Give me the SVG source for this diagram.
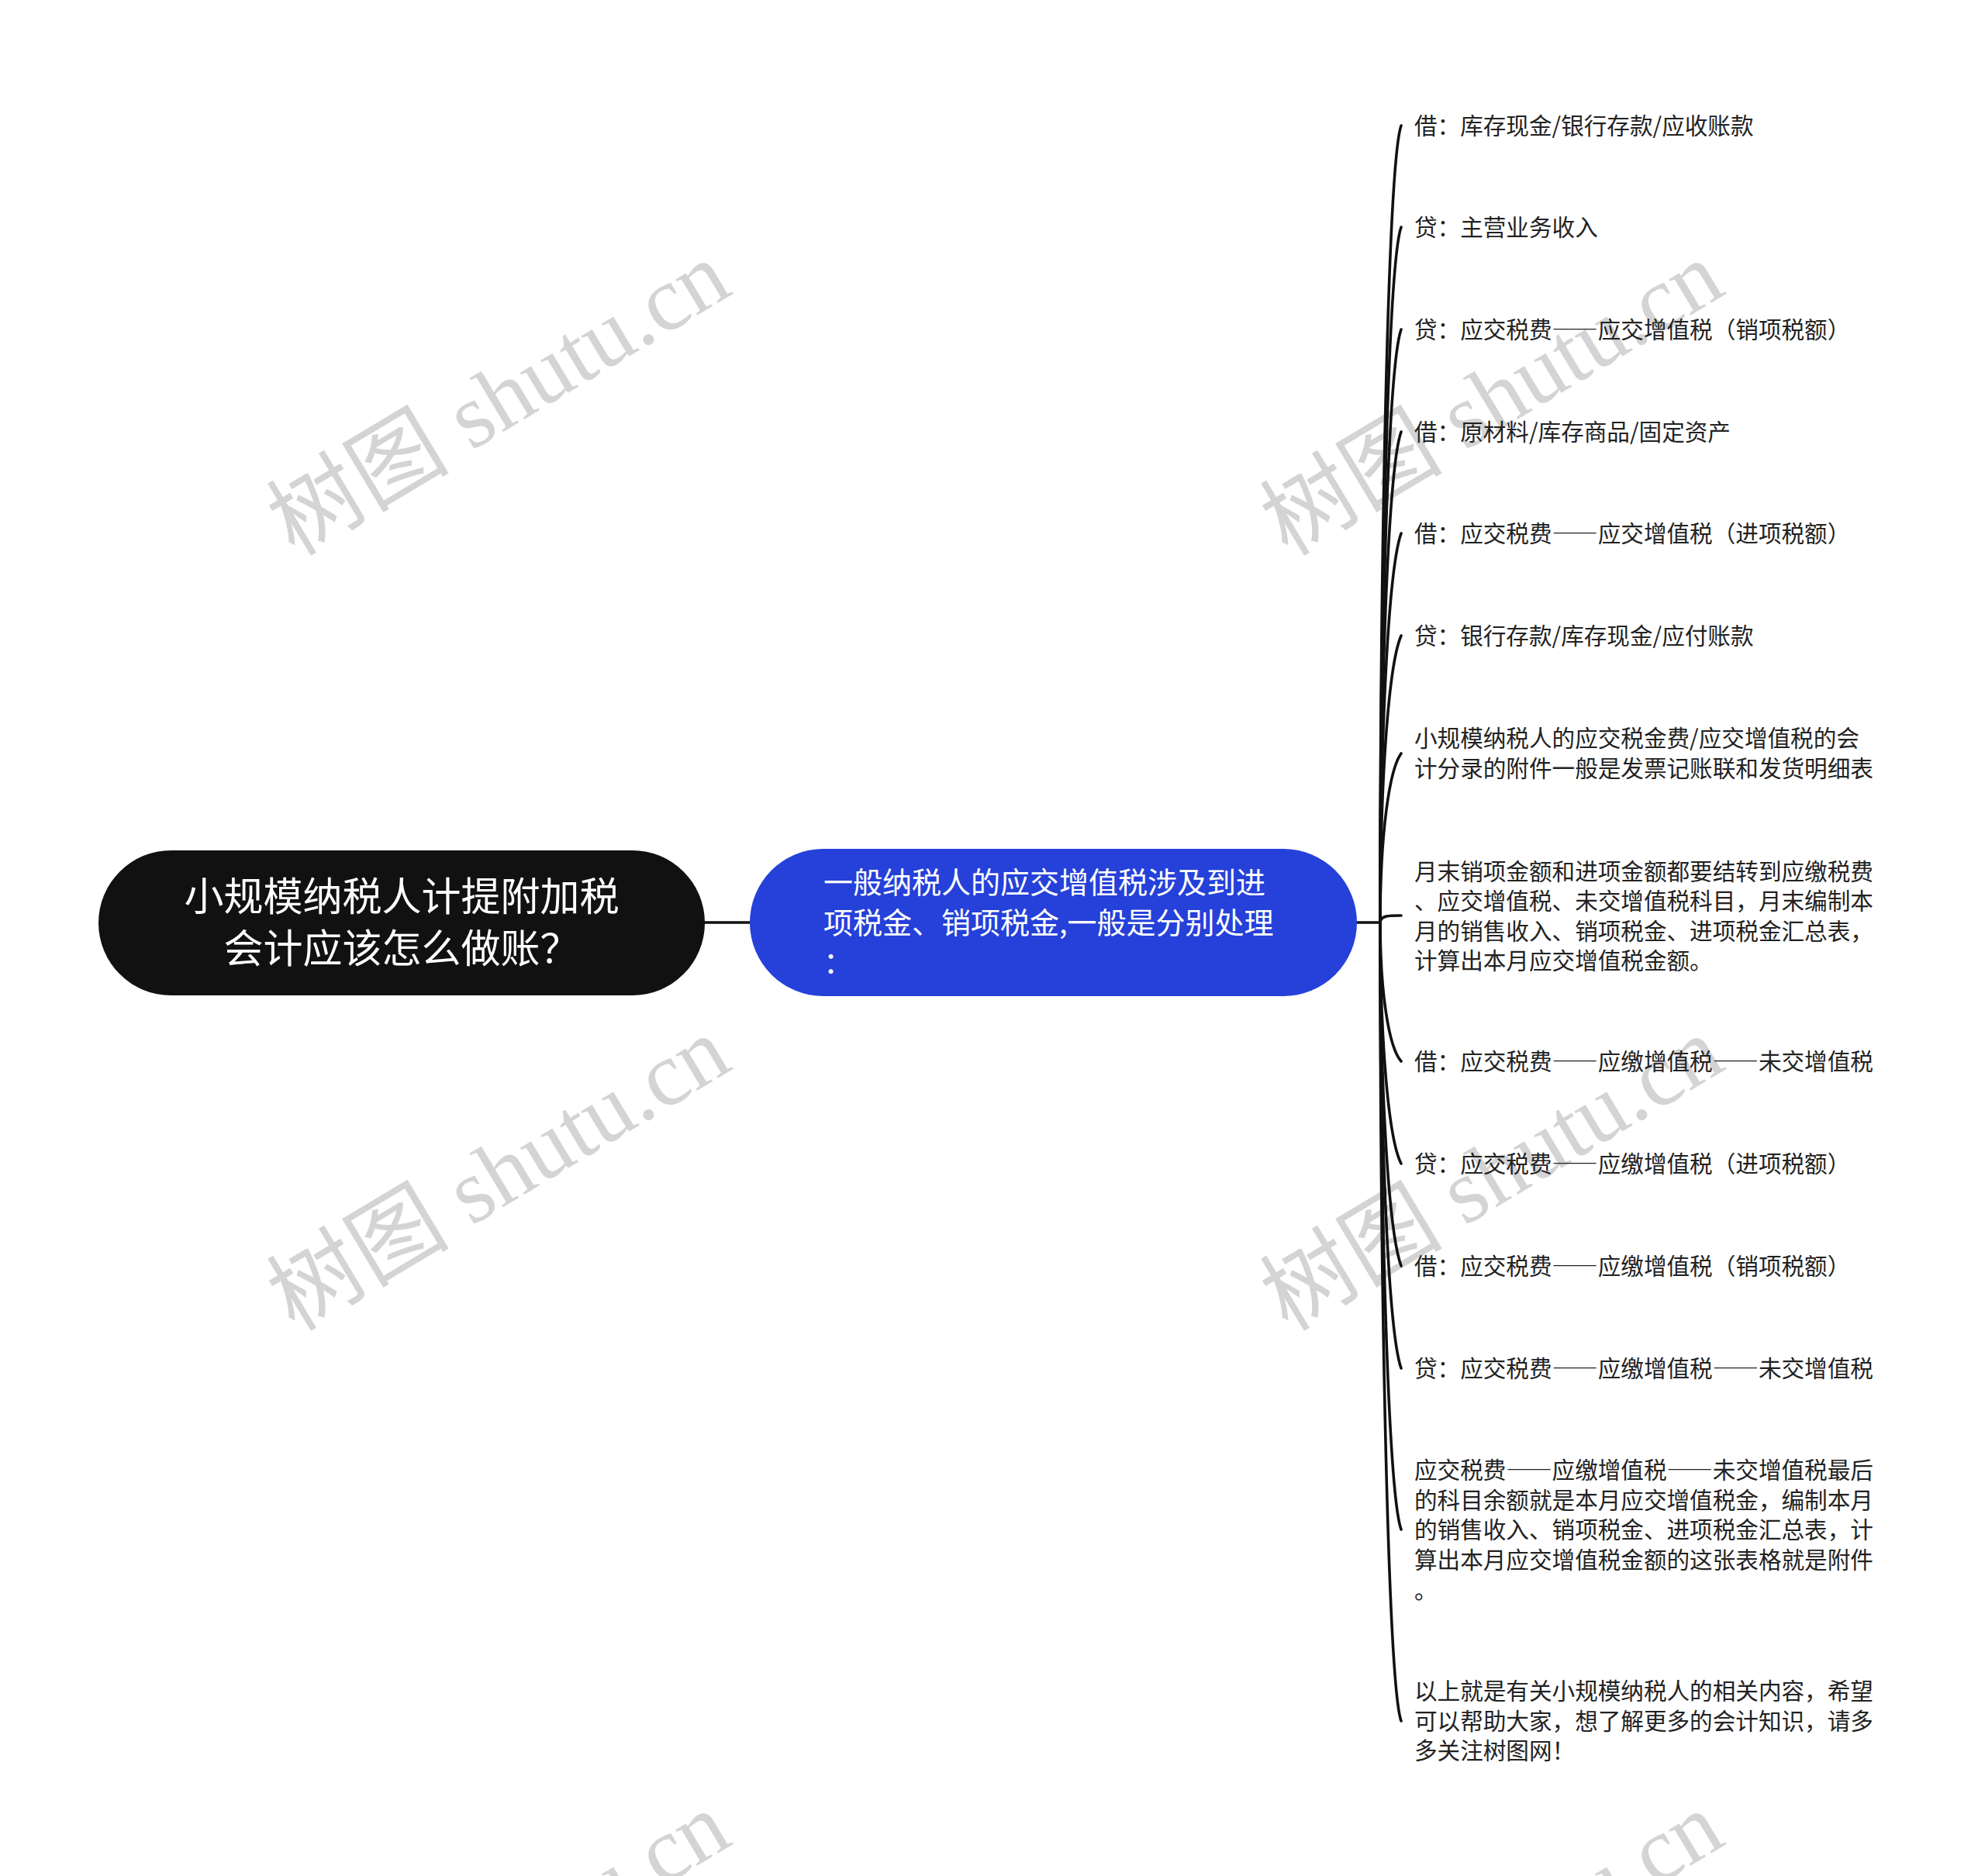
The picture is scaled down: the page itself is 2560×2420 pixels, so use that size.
<svg xmlns="http://www.w3.org/2000/svg" width="2560" height="2420" viewBox="0 0 2560 2420">
<style>
.wm{font-family:"Liberation Serif","Noto Sans CJK SC",serif;font-size:118px;fill:#d4d4d4;text-anchor:middle}
.root{font-family:"Noto Sans CJK SC",sans-serif;font-size:51px;fill:#ffffff;text-anchor:middle}
.main{font-family:"Noto Sans CJK SC",sans-serif;font-size:38px;fill:#ffffff}
.leaf{font-family:"Noto Sans CJK SC",sans-serif;font-size:29.6px;fill:#222222}
.d{font-feature-settings:"fwid" 1}
.conn{fill:none;stroke:#111111;stroke-width:3.6;stroke-linecap:round}
</style>
<rect x="0" y="0" width="2560" height="2420" fill="#ffffff"/>
<g id="watermarks">
<text class="wm" transform="translate(643,514) rotate(-31)" y="40">树图 shutu.cn</text>
<text class="wm" transform="translate(1924,514) rotate(-31)" y="40">树图 shutu.cn</text>
<text class="wm" transform="translate(643,1514) rotate(-31)" y="40">树图 shutu.cn</text>
<text class="wm" transform="translate(1924,1514) rotate(-31)" y="40">树图 shutu.cn</text>
<text class="wm" transform="translate(643,2514) rotate(-31)" y="40">树图 shutu.cn</text>
<text class="wm" transform="translate(1924,2514) rotate(-31)" y="40">树图 shutu.cn</text>
</g>
<g id="connectors">
<line class="conn" x1="909" y1="1190" x2="967" y2="1190" stroke-width="4"/>
<line class="conn" x1="1750" y1="1190" x2="1780" y2="1190" stroke-width="4"/>
<path class="conn" d="M1780,1190 C1780,676 1791,207 1807,162"/>
<path class="conn" d="M1780,1190 C1780,741 1791,338 1807,293"/>
<path class="conn" d="M1780,1190 C1780,807 1791,470 1807,425"/>
<path class="conn" d="M1780,1190 C1780,873 1791,602 1807,557"/>
<path class="conn" d="M1780,1190 C1780,939 1791,733 1807,688"/>
<path class="conn" d="M1780,1190 C1780,1005 1791,857 1807,820"/>
<path class="conn" d="M1780,1190 C1780,1081 1791,994 1807,972"/>
<path class="conn" d="M1780,1190 C1780,1181 1791,1181 1807,1181"/>
<path class="conn" d="M1780,1190 C1780,1280 1791,1351 1807,1369"/>
<path class="conn" d="M1780,1190 C1780,1346 1791,1470 1807,1501"/>
<path class="conn" d="M1780,1190 C1780,1412 1791,1589 1807,1633"/>
<path class="conn" d="M1780,1190 C1780,1478 1791,1720 1807,1765"/>
<path class="conn" d="M1780,1190 C1780,1582 1791,1928 1807,1973"/>
<path class="conn" d="M1780,1190 C1780,1705 1791,2175 1807,2220"/>
</g>
<g id="root">
<rect x="127" y="1097" width="782" height="187" rx="93.5" ry="93.5" fill="#111111"/>
<text class="root"><tspan x="518" y="1175">小规模纳税人计提附加税</tspan><tspan x="518" y="1242">会计应该怎么做账？</tspan></text>
</g>
<g id="main">
<rect x="967" y="1095" width="783" height="190" rx="95" ry="95" fill="#2541d9"/>
<text class="main"><tspan x="1062" y="1152">一般纳税人的应交增值税涉及到进</tspan><tspan x="1062" y="1204">项税金、销项税金,一般是分别处理</tspan><tspan x="1062" y="1255">：</tspan></text>
</g>
<g id="n1"><text class="leaf" x="1824" y="173">借：库存现金/银行存款/应收账款</text></g>
<g id="n2"><text class="leaf" x="1824" y="304">贷：主营业务收入</text></g>
<g id="n3"><text class="leaf" x="1824" y="436">贷：应交税费<tspan class="d">——</tspan>应交增值税（销项税额）</text></g>
<g id="n4"><text class="leaf" x="1824" y="568">借：原材料/库存商品/固定资产</text></g>
<g id="n5"><text class="leaf" x="1824" y="699">借：应交税费<tspan class="d">——</tspan>应交增值税（进项税额）</text></g>
<g id="n6"><text class="leaf" x="1824" y="831">贷：银行存款/库存现金/应付账款</text></g>
<g id="n7"><text class="leaf"><tspan x="1824" y="963">小规模纳税人的应交税金费/应交增值税的会</tspan><tspan x="1824" y="1002">计分录的附件一般是发票记账联和发货明细表</tspan></text></g>
<g id="n8"><text class="leaf"><tspan x="1824" y="1135">月末销项金额和进项金额都要结转到应缴税费</tspan><tspan x="1824" y="1173">、应交增值税、未交增值税科目，月末编制本</tspan><tspan x="1824" y="1212">月的销售收入、销项税金、进项税金汇总表，</tspan><tspan x="1824" y="1250">计算出本月应交增值税金额。</tspan></text></g>
<g id="n9"><text class="leaf" x="1824" y="1380">借：应交税费<tspan class="d">——</tspan>应缴增值税<tspan class="d">——</tspan>未交增值税</text></g>
<g id="n10"><text class="leaf" x="1824" y="1512">贷：应交税费<tspan class="d">——</tspan>应缴增值税（进项税额）</text></g>
<g id="n11"><text class="leaf" x="1824" y="1644">借：应交税费<tspan class="d">——</tspan>应缴增值税（销项税额）</text></g>
<g id="n12"><text class="leaf" x="1824" y="1776">贷：应交税费<tspan class="d">——</tspan>应缴增值税<tspan class="d">——</tspan>未交增值税</text></g>
<g id="n13"><text class="leaf"><tspan x="1824" y="1907">应交税费<tspan class="d">——</tspan>应缴增值税<tspan class="d">——</tspan>未交增值税最后</tspan><tspan x="1824" y="1946">的科目余额就是本月应交增值税金，编制本月</tspan><tspan x="1824" y="1984">的销售收入、销项税金、进项税金汇总表，计</tspan><tspan x="1824" y="2023">算出本月应交增值税金额的这张表格就是附件</tspan><tspan x="1824" y="2062">。</tspan></text></g>
<g id="n14"><text class="leaf"><tspan x="1824" y="2192">以上就是有关小规模纳税人的相关内容，希望</tspan><tspan x="1824" y="2231">可以帮助大家，想了解更多的会计知识，请多</tspan><tspan x="1824" y="2269">多关注树图网！</tspan></text></g>
</svg>
